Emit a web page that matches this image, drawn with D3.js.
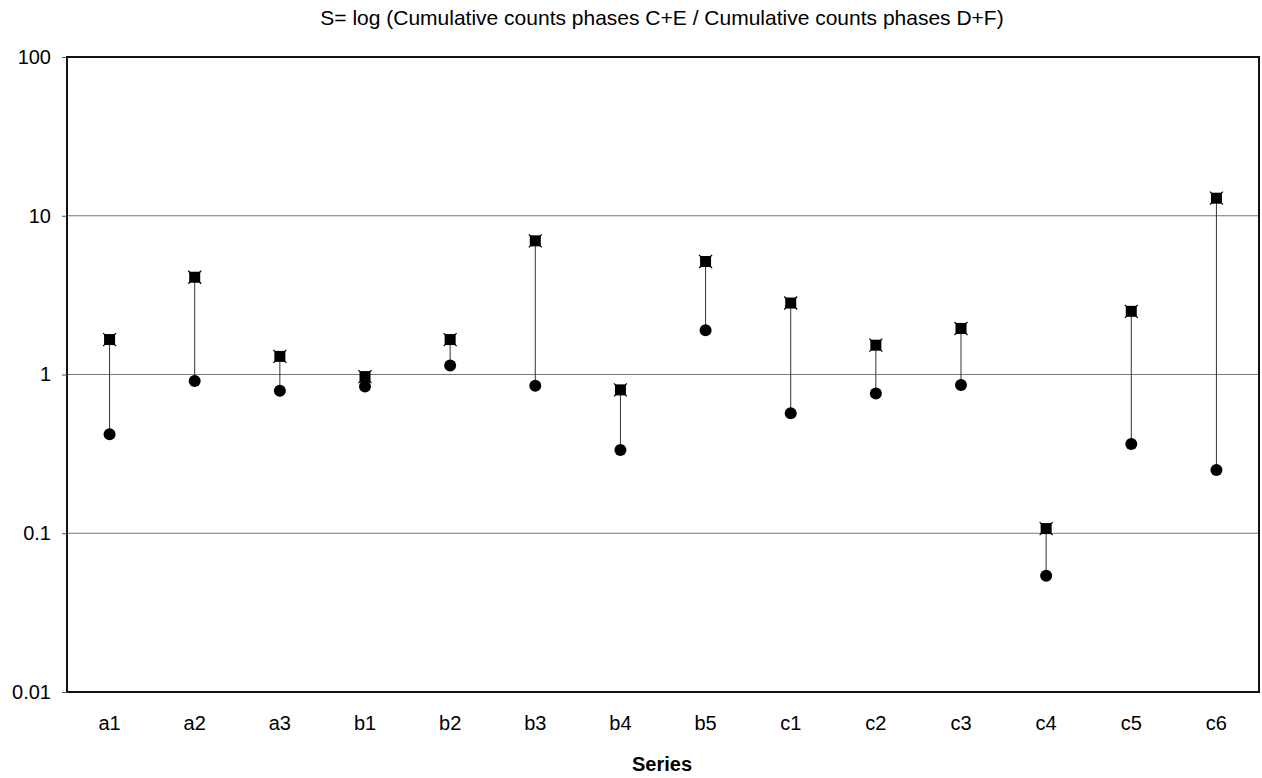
<!DOCTYPE html>
<html><head><meta charset="utf-8">
<script src="https://cdn.jsdelivr.net/npm/d3@7"></script>
<style>body{margin:0;background:#fff;} svg{display:block;font-family:"Liberation Sans",Arial,sans-serif;}</style>
</head><body>
<svg id="c" width="1262" height="778"></svg>
<script>
const categories = ["a1","a2","a3","b1","b2","b3","b4","b5","c1","c2","c3","c4","c5","c6"];
const upperValues = [1.66, 4.1, 1.3, 0.97, 1.66, 6.95, 0.8, 5.15, 2.82, 1.53, 1.95, 0.107, 2.5, 12.9];
const lowerValues = [0.42, 0.91, 0.79, 0.84, 1.14, 0.85, 0.335, 1.9, 0.57, 0.76, 0.86, 0.054, 0.365, 0.25];
const yTicks = [0.01, 0.1, 1, 10, 100];
const yTickLabels = ["0.01", "0.1", "1", "10", "100"];
const title = "S= log (Cumulative counts phases C+E / Cumulative counts phases D+F)";
const xTitle = "Series";

const FONT = '"Liberation Sans",Arial,sans-serif';
const svg = d3.select("#c");
const L = 67, R = 1259, T = 57, B = 692;
const x = d3.scaleBand().domain(categories).range([L, R]);
const y = d3.scaleLog().domain([0.01, 100]).range([B, T]);

// gridlines
svg.append("g").selectAll("line").data(yTicks.filter(v => v > 0.01 && v < 100)).join("line")
  .attr("x1", L).attr("x2", R).attr("y1", d => y(d)).attr("y2", d => y(d))
  .attr("stroke", "#777").attr("stroke-width", 1);

// plot box
svg.append("rect").attr("x", L).attr("y", T).attr("width", R - L).attr("height", B - T)
  .attr("fill", "none").attr("stroke", "#111").attr("stroke-width", 2);

// y axis
const yAxis = d3.axisLeft(y).tickValues(yTicks).tickFormat((d, i) => yTickLabels[i]).tickSize(5).tickPadding(11);
const gy = svg.append("g").attr("transform", `translate(${L},0)`).call(yAxis);
gy.select(".domain").remove();
gy.selectAll(".tick line").attr("stroke", "#555");
gy.selectAll(".tick text").attr("font-size", 20).attr("fill", "#000").attr("font-family", FONT);

// x axis labels
const xAxis = d3.axisBottom(x).tickSize(0).tickPadding(24);
const gx = svg.append("g").attr("transform", `translate(0,${B})`).call(xAxis);
gx.select(".domain").remove();
gx.selectAll(".tick text").attr("font-size", 20).attr("fill", "#000").attr("font-family", FONT);

const cx = d => x(d) + x.bandwidth() / 2;

// stems
svg.append("g").selectAll("line").data(categories).join("line")
  .attr("x1", cx).attr("x2", cx)
  .attr("y1", (d, i) => y(upperValues[i])).attr("y2", (d, i) => y(lowerValues[i]))
  .attr("stroke", "#333").attr("stroke-width", 1);

// lower: circles
svg.append("g").selectAll("circle").data(categories).join("circle")
  .attr("cx", cx).attr("cy", (d, i) => y(lowerValues[i])).attr("r", 6).attr("fill", "#000");

// upper: squares with X overlay
const s = 11;
const gs = svg.append("g");
gs.selectAll("rect").data(categories).join("rect")
  .attr("x", d => cx(d) - s / 2).attr("y", (d, i) => y(upperValues[i]) - s / 2)
  .attr("width", s).attr("height", s).attr("fill", "#000");
gs.selectAll("path").data(categories).join("path")
  .attr("d", (d, i) => {
    const px = cx(d), py = y(upperValues[i]), h = s / 2 + 1;
    return `M${px - h},${py - h}L${px + h},${py + h}M${px - h},${py + h}L${px + h},${py - h}`;
  })
  .attr("stroke", "#000").attr("stroke-width", 1.2);

// titles
svg.append("text").attr("x", 662).attr("y", 25).attr("text-anchor", "middle")
  .attr("font-size", 21).attr("font-family", FONT).text(title);
svg.append("text").attr("x", 662).attr("y", 771).attr("text-anchor", "middle")
  .attr("font-size", 20).attr("font-weight", "bold").attr("font-family", FONT).text(xTitle);
</script>
</body></html>
